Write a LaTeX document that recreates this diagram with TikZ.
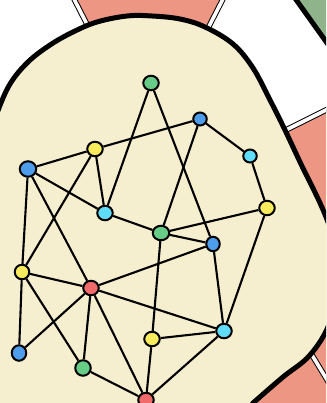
\documentclass[tikz,border=0pt]{standalone}
\usetikzlibrary{shapes.geometric}
\definecolor{cream}{HTML}{F5EECF}
\definecolor{salmon}{HTML}{EC9683}
\definecolor{sage}{HTML}{8FB48C}
\definecolor{ngreen}{HTML}{66CC88}
\definecolor{nblue}{HTML}{4E9DEB}
\definecolor{nyellow}{HTML}{F8EC5C}
\definecolor{ncyan}{HTML}{5EDCF8}
\definecolor{nred}{HTML}{F26B6B}
\begin{document}
\begin{tikzpicture}[x=1pt,y=-1pt,
  vert/.style={ellipse,draw=black,line width=2pt,inner sep=0pt,minimum width=15.5pt,minimum height=14.5pt},
  smallv/.style={minimum width=13.5pt,minimum height=13pt},
  edge/.style={draw=black,line width=2.1pt},
  sep/.style={draw=black,line width=1pt,double=white,double distance=3.6pt},
  rim/.style={draw=black,line width=5pt}]
\useasboundingbox (0,0) rectangle (326,403);
\clip (0,0) rectangle (326,403);
\fill[white] (0,0) rectangle (326,403);
% background ring segments
\fill[salmon] (72,-5) -- (95,45) -- (200,45) -- (224,-5) -- cycle;
\fill[salmon] (250,140) -- (280,132) -- (335,106) -- (335,410) -- (230,410) -- cycle;
\fill[sage] (294,-5) -- (335,53) -- (335,-5) -- cycle;
\draw[sep] (72,-5) -- (94,38);
\draw[sep] (225,-5) -- (203,38);
\draw[sep] (270,138) -- (332,107);
\draw[sep] (298,332) -- (332,388);
\draw[rim] (292,-6) -- (332,50);
% blob
\filldraw[fill=cream,rim] plot[smooth cycle,tension=0.6] coordinates {
  (-14,145) (-3,113) (10,84) (28,62) (50,45) (73,32) (97,22) (127,16) (152,16)
  (180,19) (205,27) (233,44) (253,68) (270,100) (284,128) (300,162) (326,217)
  (342,270) (330,322) (310,355) (283,377) (253,403) (225,428) (-30,430)};
% nodes
\node[vert,fill=ngreen] (gT) at (151,83) {};
\node[vert,fill=nblue,smallv] (bT) at (200,119) {};
\node[vert,fill=nyellow] (yT) at (95,149) {};
\node[vert,fill=nblue,minimum width=16.5pt,minimum height=15.5pt] (bL) at (28,169) {};
\node[vert,fill=ncyan,smallv] (cR) at (250,156) {};
\node[vert,fill=ncyan] (cM) at (105,213) {};
\node[vert,fill=nyellow] (yR) at (267,208) {};
\node[vert,fill=ngreen,minimum width=16.5pt] (gM) at (161,233) {};
\node[vert,fill=nblue,minimum width=13.5pt,minimum height=14.5pt] (bR) at (213,244) {};
\node[vert,fill=nyellow,minimum width=14.5pt] (yL) at (22,272) {};
\node[vert,fill=nred] (rM) at (91,288) {};
\node[vert,fill=nyellow] (yB) at (152,339) {};
\node[vert,fill=ncyan] (cB) at (224,331) {};
\node[vert,fill=nblue,minimum width=14.5pt,minimum height=15.5pt] (bB) at (19,353) {};
\node[vert,fill=ngreen,minimum height=15.5pt] (gB) at (83,368) {};
\node[vert,fill=nred] (rB) at (146,400) {};
% edges
\foreach \a/\b in {gT/cM,gT/bR,bT/yT,bT/gM,bT/cR,yT/bL,yT/cM,yT/yL,bL/cM,bL/yL,bL/rM,
  cM/gM,cR/yR,yR/gM,yR/cB,gM/bR,gM/yB,bR/rM,bR/cB,yL/rM,yL/bB,yL/gB,rM/bB,rM/gB,rM/rB,
  rM/cB,yB/cB,yB/rB,cB/rB,gB/rB}
  \draw[edge] (\a) -- (\b);
\end{tikzpicture}
\end{document}
